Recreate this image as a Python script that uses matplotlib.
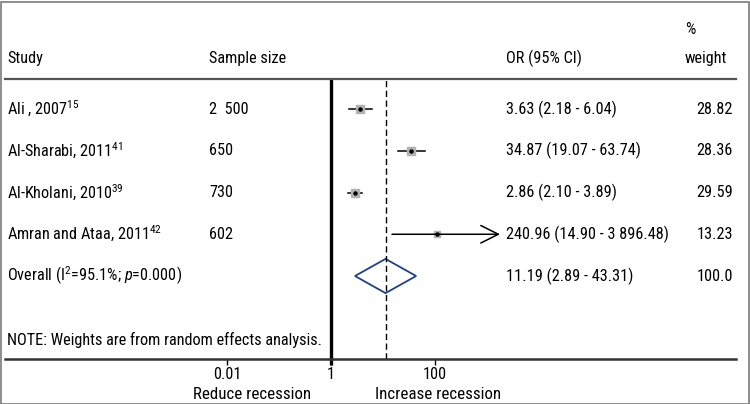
import numpy as np
import matplotlib.pyplot as plt
from matplotlib.patches import Polygon, Rectangle
from matplotlib.ticker import NullLocator

plt.rcParams['font.family'] = ['Roboto Condensed', 'DejaVu Sans']
plt.rcParams['mathtext.fontset'] = 'custom'
plt.rcParams['mathtext.rm'] = 'Roboto Condensed'
plt.rcParams['mathtext.it'] = 'Roboto Condensed:italic'

# data
studies = ['Ali , 2007$^{15}$', 'Al-Sharabi, 2011$^{41}$',
           'Al-Kholani, 2010$^{39}$', 'Amran and Ataa, 2011$^{42}$']
sample_sizes = ['2  500', '650', '730', '602']
odds = [3.63, 34.87, 2.86, 109]  # marker positions as drawn in the figure
ci_low = [2.18, 19.07, 2.10, 14.90]
ci_high = [6.04, 63.74, 3.89, 3896.48]
weights = [28.82, 28.36, 29.59, 13.23]
ci_labels = ['3.63 (2.18 - 6.04)', '34.87 (19.07 - 63.74)',
             '2.86 (2.10 - 3.89)', '240.96 (14.90 - 3 896.48)']

overall_or = 11.19
overall_low = 2.89
overall_high = 43.31
overall_label = 'Overall (I$^{2}$=95.1%; $p$=0.000)'
overall_ci_label = '11.19 (2.89 - 43.31)'
overall_weight = '100.0'

tick_vals = [0.01, 1, 100]
tick_text = ['0.01', '1', '100']
x_cap = 1780  # where the plot region ends and CIs get arrows

W, H = 750, 404
fig = plt.figure(figsize=(W / 100, H / 100), dpi=100)
fig.patches.append(Rectangle((0.5 / W, 0.5 / H), 1 - 2 / W, 1 - 2 / H,
                             transform=fig.transFigure, fill=False,
                             edgecolor='#7a7a7a', lw=1.2))

ax = fig.add_axes([5 / W, 1 - 359 / H, 731 / W, 280 / H])
ax.set_xscale('log')
ax.set_xlim(10 ** (-326 / 52), 10 ** (405 / 52))
ax.set_ylim(6.988, 0.281)
ax.set_yticks([])
for s in ['left', 'right']:
    ax.spines[s].set_visible(False)
ax.spines['top'].set_color('#555555')
ax.spines['top'].set_linewidth(1.6)
ax.spines['bottom'].set_color('#333333')
ax.spines['bottom'].set_linewidth(1.8)
ax.set_xticks(tick_vals)
ax.set_xticklabels(tick_text)
ax.xaxis.set_minor_locator(NullLocator())
ax.tick_params(axis='x', direction='out', length=4, width=1, pad=1.5, labelsize=11.7)

# line of no effect, running a little below the axis like a thick tick
ax.plot([1, 1], [0.281, 7.12], color='black', lw=2.4, clip_on=False, solid_capstyle='butt')
ax.axvline(overall_or, color='black', lw=1, ls=(0, (4.5, 2.5)))

rows = np.arange(1, len(studies) + 1)
for y, o, lo, hi, w in zip(rows, odds, ci_low, ci_high, weights):
    if hi > x_cap:
        ax.annotate('', xy=(x_cap, y), xytext=(lo, y),
                    arrowprops=dict(arrowstyle='->, head_length=0.9, head_width=0.45',
                                    color='black', lw=1.1, shrinkA=0, shrinkB=0,
                                    mutation_scale=14))
    else:
        ax.plot([lo, hi], [y, y], color='black', lw=1.1)
    ax.plot(o, y, marker='s', ms=4.2 * np.sqrt(w / 28.82) + 1.6,
            color='#b2b2b2', mec='#b2b2b2', ls='none')
    ax.plot(o, y, marker='o', ms=2.2, color='black', ls='none')

yo = len(studies) + 1
diamond = Polygon([[overall_low, yo], [overall_or, yo - 0.41],
                   [overall_high, yo], [overall_or, yo + 0.41]],
                  closed=True, fill=False, edgecolor='#1f3f8f', lw=1.3)
ax.add_patch(diamond)

tr = ax.get_yaxis_transform()
fs = 11.7
x_study = 2 / 731
x_size = 204 / 731
x_ci = 501 / 731
x_w = 728 / 731

header_y = -0.22
ax.text(x_study, header_y, 'Study', transform=tr, fontsize=fs, va='center')
ax.text(x_size, header_y, 'Sample size', transform=tr, fontsize=fs, va='center')
ax.text(x_ci, header_y, 'OR (95% CI)', transform=tr, fontsize=fs, va='center')
ax.text(680 / 731, header_y, 'weight', transform=tr, fontsize=fs, va='center')
ax.text(680 / 731, -0.916, '%', transform=tr, fontsize=fs, va='center')

for y, name, n, lab, w in zip(rows, studies, sample_sizes, ci_labels, weights):
    ax.text(x_study, y, name, transform=tr, fontsize=fs, va='center')
    ax.text(x_size, y, n, transform=tr, fontsize=fs, va='center')
    ax.text(x_ci, y, lab, transform=tr, fontsize=fs, va='center')
    ax.text(x_w, y, f'{w:.2f}', transform=tr, fontsize=fs, va='center', ha='right')

ax.text(x_study, yo, overall_label, transform=tr, fontsize=fs, va='center')
ax.text(x_ci, yo, overall_ci_label, transform=tr, fontsize=fs, va='center')
ax.text(x_w, yo, overall_weight, transform=tr, fontsize=fs, va='center', ha='right')

ax.text(x_study, 6.53, 'NOTE: Weights are from random effects analysis.',
        transform=tr, fontsize=fs, va='center')

ax.text(247 / 731, 7.83, 'Reduce recession', transform=tr, fontsize=12.2,
        va='center', ha='center')
ax.text(433 / 731, 7.83, 'Increase recession', transform=tr, fontsize=12.2,
        va='center', ha='center')

fig.savefig('out.png', dpi=100)
